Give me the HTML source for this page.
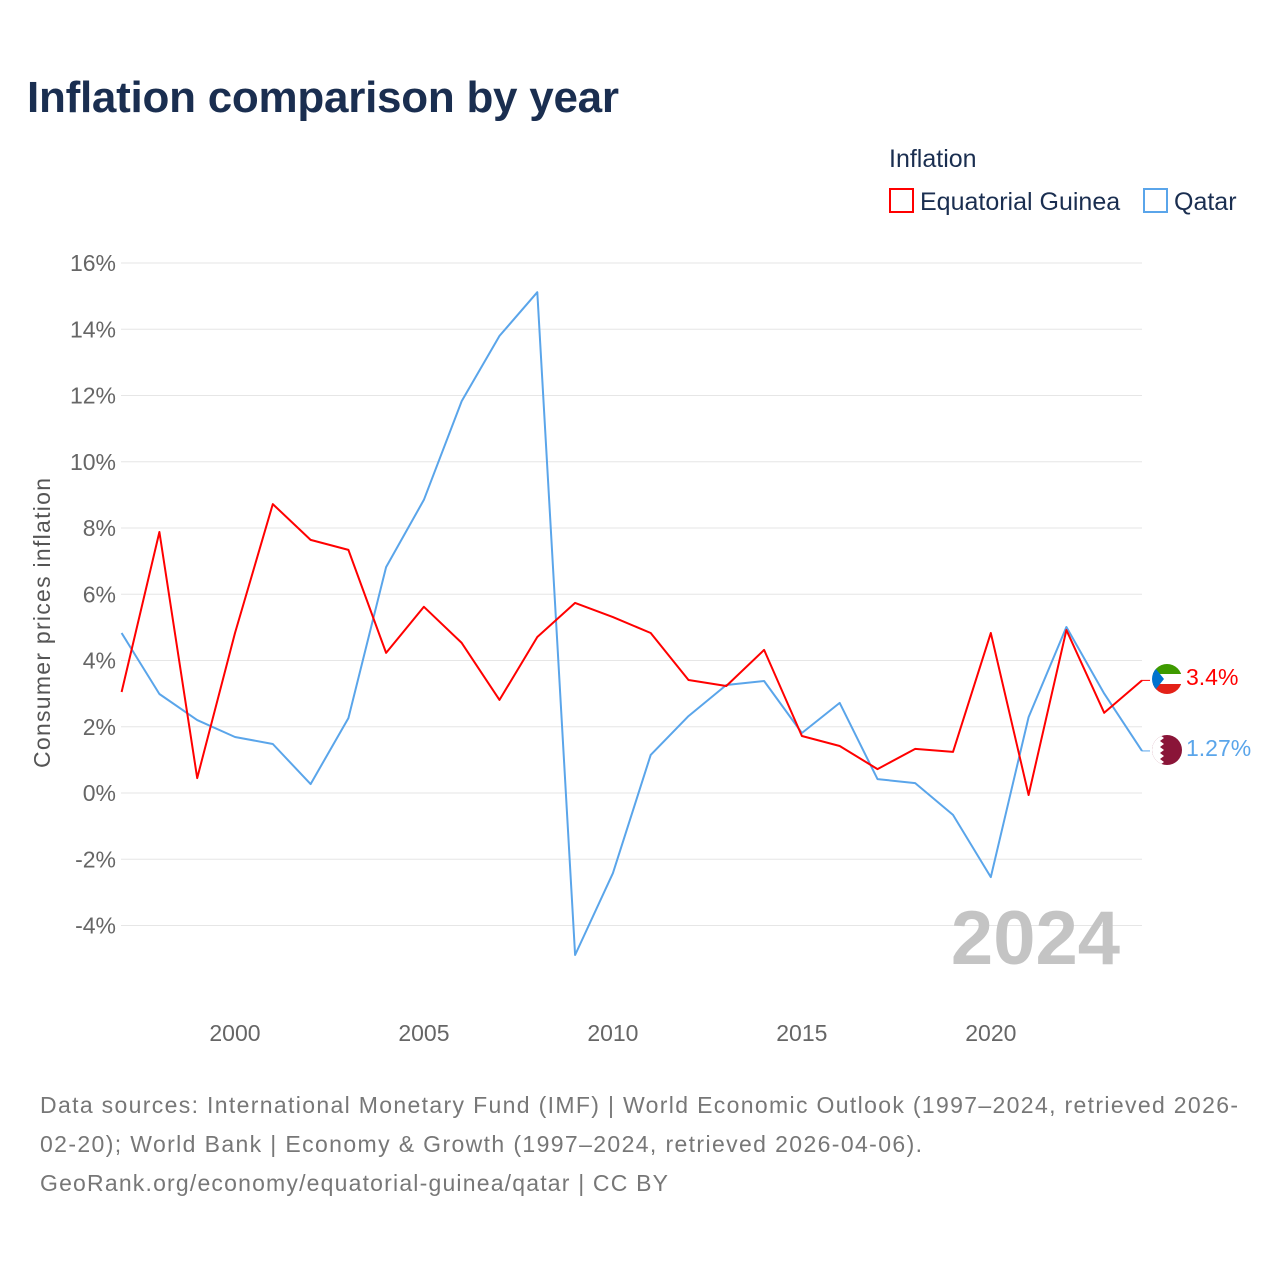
<!DOCTYPE html>
<html><head><meta charset="utf-8"><style>
body{margin:0;background:#fff;font-family:"Liberation Sans",sans-serif}
svg text{font-family:"Liberation Sans",sans-serif}
</style></head><body>
<svg id="chart" width="1280" height="1280" viewBox="0 0 1280 1280">
<text x="27" y="112" font-size="44" font-weight="bold" fill="#1a2e50" textLength="592">Inflation comparison by year</text>
<g>
<text x="889" y="167" font-size="25" fill="#1a2e50">Inflation</text>
<g><rect x="890" y="189" width="23" height="23" fill="none" stroke="#f00" stroke-width="2"/><text x="920" y="210" font-size="25" fill="#1a2e50">Equatorial Guinea</text></g>
<g><rect x="1144" y="189" width="23" height="23" fill="none" stroke="#5aa5ea" stroke-width="2"/><text x="1174" y="210" font-size="25" fill="#1a2e50">Qatar</text></g>
</g>
<g id="grid"></g><g id="yticks"></g><g id="xticks"></g>
<text transform="translate(50,623) rotate(-90)" text-anchor="middle" font-size="23" fill="#555" textLength="290">Consumer prices inflation</text>
<text x="1120" y="964" text-anchor="end" font-size="76" font-weight="bold" fill="#c4c4c4">2024</text>
<g id="series"></g>
<g>
<g>
<clipPath id="c1"><circle cx="1167" cy="679" r="15"/></clipPath>
<g clip-path="url(#c1)"><rect x="1150" y="664" width="34" height="10" fill="#3e9a00"/><rect x="1150" y="674" width="34" height="10" fill="#fff"/><rect x="1150" y="684" width="34" height="11" fill="#e32118"/><polygon points="1152,664 1164,679 1152,694" fill="#0073ce"/></g></g>
<text x="1186" y="685" font-size="23" fill="#f00">3.4%</text>
<g>
<clipPath id="c2"><circle cx="1167" cy="750" r="15"/></clipPath>
<g clip-path="url(#c2)"><rect x="1150" y="735" width="34" height="30" fill="#8a1538"/><polygon points="1150,735 1160,735 1164,738 1160,741 1164,744 1160,747 1164,750 1160,753 1164,756 1160,759 1164,762 1160,765 1150,765" fill="#fff"/></g></g>
<text x="1186" y="756" font-size="23" fill="#5aa5ea">1.27%</text>
</g>
<g font-size="23" fill="#777">
<text x="40" y="1113" textLength="1198">Data sources: International Monetary Fund (IMF) | World Economic Outlook (1997–2024, retrieved 2026-</text>
<text x="40" y="1152" textLength="882">02-20); World Bank | Economy &amp; Growth (1997–2024, retrieved 2026-04-06).</text>
<text x="40" y="1191" textLength="628">GeoRank.org/economy/equatorial-guinea/qatar | CC BY</text>
</g>
</svg>
<script>
const years=[1997,1998,1999,2000,2001,2002,2003,2004,2005,2006,2007,2008,2009,2010,2011,2012,2013,2014,2015,2016,2017,2018,2019,2020,2021,2022,2023,2024];
const eqGuinea=[3.05,7.88,0.45,4.83,8.72,7.64,7.34,4.23,5.62,4.53,2.81,4.71,5.74,5.31,4.83,3.41,3.23,4.32,1.72,1.42,0.72,1.33,1.24,4.83,-0.06,4.92,2.42,3.4];
const qatar=[4.83,2.99,2.2,1.69,1.48,0.27,2.26,6.82,8.85,11.83,13.8,15.12,-4.89,-2.42,1.15,2.32,3.26,3.38,1.81,2.72,0.42,0.3,-0.66,-2.54,2.29,5.01,3.0,1.27];
const yTicks=[-4,-2,0,2,4,6,8,10,12,14,16];
const xTicks=[2000,2005,2010,2015,2020];
const NS="http://www.w3.org/2000/svg";
const xs=y=>121.6+(y-1997)*(1142-121.6)/27;
const ys=v=>793-v*33.125;
function mk(t,a,p){const e=document.createElementNS(NS,t);for(const k in a)e.setAttribute(k,a[k]);p.appendChild(e);return e;}
const grid=document.getElementById('grid'),yt=document.getElementById('yticks'),xt=document.getElementById('xticks'),ser=document.getElementById('series');
yTicks.forEach(v=>{
 const l=mk('line',{x1:121,x2:1142,y1:ys(v),y2:ys(v),stroke:'#e6e6e6','stroke-width':1},grid);
 
 
 const t=mk('text',{x:116,y:ys(v)+8,'text-anchor':'end','font-size':23,fill:'#666'},yt);
 t.textContent=v+'%';
 
 
});
xTicks.forEach(v=>{
 const t=mk('text',{x:xs(v),y:1041,'text-anchor':'middle','font-size':23,fill:'#666'},xt);
 t.textContent=v;
 
 
});
function line(vals,color,name){
 const d=vals.map((v,i)=>(i?'L':'M')+xs(years[i]).toFixed(1)+','+ys(v).toFixed(1)).join('');
 const p=mk('path',{d:d,fill:'none',stroke:color,'stroke-width':2,'stroke-linejoin':'round'},ser);
 
 
 const last=vals[vals.length-1];
 const c=mk('line',{x1:xs(2024),x2:xs(2024)+8,y1:ys(last),y2:ys(last),stroke:color,'stroke-width':1},ser);
 
 
}
line(qatar,'#5aa5ea','line-qatar');
line(eqGuinea,'#ff0000','line-equatorial-guinea');
</script>
</body></html>
